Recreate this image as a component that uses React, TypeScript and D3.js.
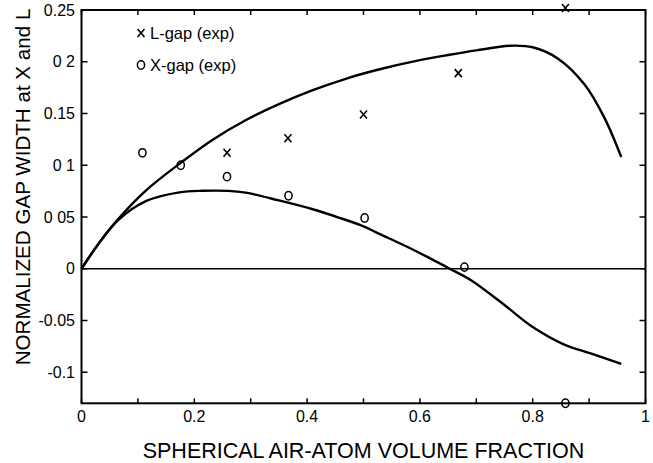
import React, { useEffect, useRef } from 'react';
import * as d3 from 'd3';

// theory curves
const upperX = [0, 0.03, 0.065, 0.115, 0.175, 0.232, 0.291, 0.35, 0.41, 0.474, 0.527, 0.6, 0.65, 0.7, 0.762, 0.8, 0.845, 0.892, 0.927, 0.957];
const upperY = [0, 0.024, 0.048, 0.076, 0.102, 0.1245, 0.1435, 0.159, 0.1725, 0.1845, 0.1925, 0.2015, 0.2065, 0.211, 0.2155, 0.214, 0.203, 0.178, 0.146, 0.108];
const lowerX = [0, 0.03, 0.065, 0.115, 0.1735, 0.215, 0.26, 0.291, 0.35, 0.41, 0.456, 0.5, 0.527, 0.58, 0.62, 0.653, 0.692, 0.751, 0.798, 0.857, 0.904, 0.957];
const lowerY = [0, 0.024, 0.047, 0.0655, 0.0738, 0.0753, 0.0752, 0.0735, 0.066, 0.0575, 0.0495, 0.041, 0.034, 0.0205, 0.0095, 0, -0.0115, -0.0355, -0.0555, -0.0735, -0.082, -0.092];

// experimental points
const lGapX = [0.258, 0.366, 0.5, 0.668, 0.858];
const lGapY = [0.112, 0.126, 0.149, 0.189, 0.252];
const xGapX = [0.108, 0.176, 0.258, 0.367, 0.502, 0.679, 0.858];
const xGapY = [0.112, 0.1, 0.089, 0.0705, 0.049, 0.0016, -0.13];

const xTicks = [0, 0.1, 0.2, 0.3, 0.4, 0.5, 0.6, 0.7, 0.8, 0.9, 1];
const xTickLabels = ['0', '', '0.2', '', '0.4', '', '0.6', '', '0.8', '', '1'];
const yTicks = [0.25, 0.2, 0.15, 0.1, 0.05, 0, -0.05, -0.1];
const yTickLabels = ['0.25', '0 2', '0.15', '0 1', '0 05', '0', '-0.05', '-0.1'];

const W = 653;
const H = 463;
const FONT = '"Liberation Sans", Arial, Helvetica, sans-serif';

export default function App() {
  const ref = useRef<SVGSVGElement>(null);

  useEffect(() => {
    const svg = d3.select(ref.current);
    svg.selectAll('*').remove();

    const x = d3.scaleLinear().domain([0, 1]).range([81.5, 645.5]);
    const y = d3.scaleLinear().domain([-0.13, 0.25]).range([403.3, 10]);
    const [x0, x1] = x.range();
    const [y0, y1] = y.range();

    svg.append('rect').attr('width', W).attr('height', H).attr('fill', '#fff');

    // ticks, pointing inward on all four sides
    const tk = svg.append('g').attr('stroke', '#000').attr('stroke-width', 1.5);
    xTicks.forEach(t => {
      tk.append('line').attr('x1', x(t)).attr('x2', x(t)).attr('y1', y0).attr('y2', y0 - 5);
      tk.append('line').attr('x1', x(t)).attr('x2', x(t)).attr('y1', y1).attr('y2', y1 + 5);
    });
    yTicks.forEach(t => {
      tk.append('line').attr('x1', x0).attr('x2', x0 + 6).attr('y1', y(t)).attr('y2', y(t));
      tk.append('line').attr('x1', x1).attr('x2', x1 - 6).attr('y1', y(t)).attr('y2', y(t));
    });

    // frame
    svg.append('rect')
      .attr('x', x0).attr('y', y1)
      .attr('width', x1 - x0).attr('height', y0 - y1)
      .attr('fill', 'none').attr('stroke', '#000').attr('stroke-width', 2);

    // zero line
    svg.append('line')
      .attr('x1', x0).attr('x2', x1).attr('y1', y(0)).attr('y2', y(0))
      .attr('stroke', '#000').attr('stroke-width', 1.5);

    const line = d3.line<number[]>()
      .x(d => x(d[0]))
      .y(d => y(d[1]))
      .curve(d3.curveCatmullRom.alpha(0.5));

    const upper = upperX.map((v, i) => [v, upperY[i]]);
    const lower = lowerX.map((v, i) => [v, lowerY[i]]);
    [upper, lower].forEach(pts => {
      svg.append('path')
        .attr('d', line(pts))
        .attr('fill', 'none')
        .attr('stroke', '#000')
        .attr('stroke-width', 2.4);
    });

    const cross = (g: any, cx: number, cy: number) => {
      g.append('path')
        .attr('d', `M${cx - 3.5},${cy - 4}L${cx + 3.5},${cy + 4}M${cx + 3.5},${cy - 4}L${cx - 3.5},${cy + 4}`)
        .attr('stroke', '#000').attr('stroke-width', 1.6).attr('fill', 'none');
    };
    const ring = (g: any, cx: number, cy: number) => {
      g.append('ellipse')
        .attr('cx', cx).attr('cy', cy).attr('rx', 3.6).attr('ry', 4.2)
        .attr('stroke', '#000').attr('stroke-width', 1.5).attr('fill', 'none');
    };

    const marks = svg.append('g');
    lGapX.forEach((v, i) => cross(marks, x(v), y(lGapY[i])));
    xGapX.forEach((v, i) => ring(marks, x(v), y(xGapY[i])));

    // legend
    cross(marks, 141, 33);
    ring(marks, 141, 65);
    svg.append('text').attr('x', 150).attr('y', 39)
      .attr('font-family', FONT).attr('font-size', 16.5).text('L-gap (exp)');
    svg.append('text').attr('x', 150).attr('y', 71)
      .attr('font-family', FONT).attr('font-size', 16.5).text('X-gap (exp)');

    // tick labels
    svg.append('g').selectAll('text')
      .data(xTicks)
      .join('text')
      .attr('x', d => x(d))
      .attr('y', 422)
      .attr('text-anchor', 'middle')
      .attr('font-family', FONT)
      .attr('font-size', 16)
      .text((_, i) => xTickLabels[i]);

    svg.append('g').selectAll('text')
      .data(yTicks)
      .join('text')
      .attr('x', 75)
      .attr('y', d => y(d))
      .attr('dy', '0.35em')
      .attr('text-anchor', 'end')
      .attr('font-family', FONT)
      .attr('font-size', 16)
      .text((_, i) => yTickLabels[i]);

    // axis titles
    svg.append('text')
      .attr('x', 363.5).attr('y', 458)
      .attr('text-anchor', 'middle')
      .attr('font-family', FONT).attr('font-size', 21.5)
      .text('SPHERICAL AIR-ATOM VOLUME FRACTION');

    svg.append('text')
      .attr('transform', `translate(30,187) rotate(-90)`)
      .attr('text-anchor', 'middle')
      .attr('font-family', FONT).attr('font-size', 20.6)
      .text('NORMALIZED GAP WIDTH at X and L');
  }, []);

  return (
    <svg
      ref={ref}
      width={W}
      height={H}
      style={{ position: 'absolute', left: 0, top: 0, display: 'block' }}
    />
  );
}
